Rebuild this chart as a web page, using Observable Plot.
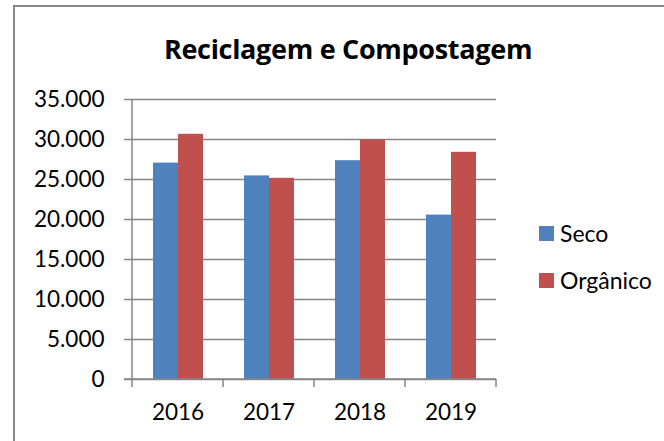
<!DOCTYPE html>
<html>
<head>
<meta charset="utf-8">
<script src="https://cdn.jsdelivr.net/npm/d3@7"></script>
<script src="https://cdn.jsdelivr.net/npm/@observablehq/plot@0.6"></script>
<style>
  body { margin: 0; background: #fff; }
  #wrap { position: relative; width: 664px; height: 441px; overflow: hidden; font-family: Lato, "Open Sans", sans-serif; }
  #border { position: absolute; left: 13px; top: 5px; width: 700px; height: 500px; border-left: 2px solid #868686; border-top: 2px solid #868686; box-sizing: border-box; }
  #title { position: absolute; left: 0; width: 696px; top: 30px; text-align: center; font-family: "Open Sans", sans-serif; font-size: 27px; font-weight: bold; color: #000; letter-spacing: -0.3px; }
  #chart { position: absolute; left: 0; top: 0; }
  .leg { position: absolute; left: 539px; font-size: 23px; color: #000; display: flex; align-items: center; }
  .leg span.sw { display: inline-block; width: 15px; height: 15px; margin-right: 6px; }
</style>
</head>
<body>
<div id="wrap">
  <div id="border"></div>
  <div id="chart"></div>
  <div id="title">Reciclagem e Compostagem</div>
  <div id="legend"></div>
</div>
<script>
const years = ["2016", "2017", "2018", "2019"];
const seriesNames = ["Seco", "Orgânico"];
const seco = [27050, 25450, 27350, 20550];
const organico = [30650, 25150, 29950, 28400];
const colors = ["#4F81BD", "#C0504D"];
const yTicks = [0, 5000, 10000, 15000, 20000, 25000, 30000, 35000];

const data = [];
years.forEach((y, i) => {
  data.push({year: y, series: seriesNames[0], value: seco[i]});
  data.push({year: y, series: seriesNames[1], value: organico[i]});
});

const fmt = d => d3.format(",")(d).replace(/,/g, ".");
const gray = "#868686";

const chart = Plot.plot({
  width: 664,
  height: 441,
  marginLeft: 131,
  marginRight: 167,
  marginTop: 99,
  marginBottom: 62,
  style: { fontFamily: "Lato, 'Open Sans', sans-serif", background: "transparent", overflow: "visible" },
  fx: { domain: years, padding: 0, label: null },
  x: { domain: seriesNames, paddingInner: 0, paddingOuter: 0.76, axis: null },
  y: { domain: [0, 35000], ticks: yTicks, label: null },
  color: { domain: seriesNames, range: colors },
  marks: [
    Plot.gridY(yTicks, { stroke: gray, strokeOpacity: 1, strokeWidth: 1.5 }),
    Plot.barY(data, { fx: "year", x: "series", y: "value", fill: "series" }),
    Plot.axisY(yTicks, { tickFormat: fmt, tickSize: 8, tickPadding: 20, fontSize: 22.5, stroke: gray, strokeWidth: 1.5, color: "#000" }),
    Plot.axisFx({ anchor: "bottom", tickSize: 0, tickPadding: 25, fontSize: 22.5, color: "#000" })
  ]
});
document.getElementById("chart").appendChild(chart);

// axis lines and category boundary ticks using the plot's own scales
const fxs = chart.scale("fx");
const ys = chart.scale("y");
const svg = d3.select(chart);
const x0 = fxs.apply(years[0]);
const x1 = fxs.apply(years[years.length - 1]) + fxs.bandwidth;
const yb = ys.apply(0), yt = ys.apply(35000);
const g = svg.append("g").attr("stroke", gray).attr("stroke-width", 1.5);
g.append("line").attr("x1", x0).attr("x2", x0).attr("y1", yt).attr("y2", yb);
g.append("line").attr("x1", x0 - 8).attr("x2", x1).attr("y1", yb).attr("y2", yb);
const bounds = years.map(y => fxs.apply(y)).concat([x1]);
bounds.forEach(b => g.append("line").attr("x1", b).attr("x2", b).attr("y1", yb).attr("y2", yb + 8));

// legend
const leg = document.getElementById("legend");
seriesNames.forEach((s, i) => {
  const d = document.createElement("div");
  d.className = "leg";
  d.style.top = (219 + i * 47) + "px";
  d.innerHTML = `<span class="sw" style="background:${colors[i]}"></span>${s}`;
  leg.appendChild(d);
});
</script>
</body>
</html>
